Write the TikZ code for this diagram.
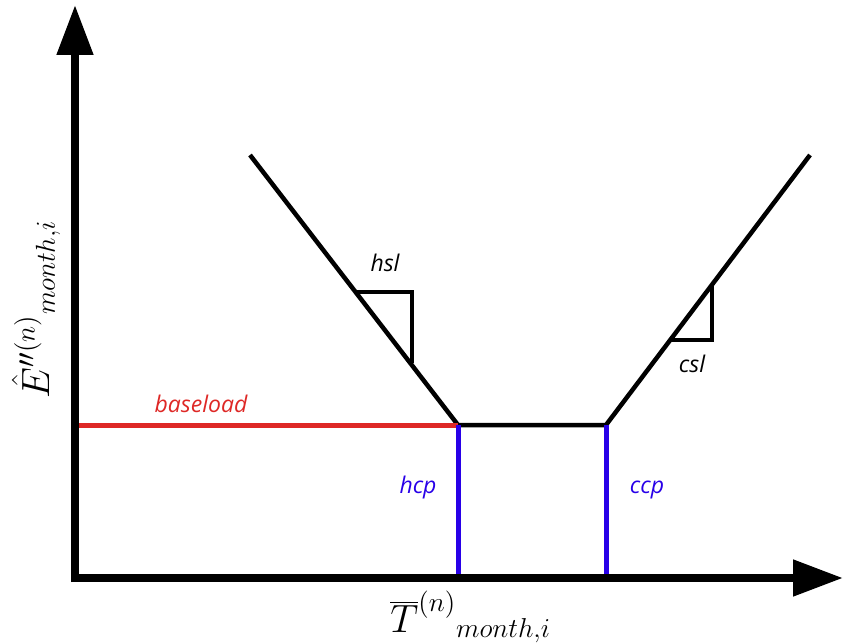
\documentclass[tikz,border=0pt]{standalone}
\usepackage{fontspec}
\setmainfont{Open Sans}
\usepackage{tikz}
\usetikzlibrary{arrows.meta}
\definecolor{loadred}{RGB}{222,40,38}
\definecolor{ptblue}{RGB}{40,0,232}
\tikzset{
  axis/.style={line width=8pt, -{Triangle[length=50pt, width=35pt]}},
  curve/.style={line width=4.5pt, line join=miter},
  slope/.style={line width=4pt, line join=miter},
  part/.style={line width=5pt},
  tag/.style={font=\fontsize{23}{27}\selectfont\itshape, inner sep=0pt, anchor=base},
  mlab/.style={font=\fontsize{20}{24}\selectfont, scale=1.9, inner sep=0pt, anchor=base west}
}

\begin{document}
\begin{tikzpicture}[x=1pt, y=-1pt]
\useasboundingbox (0,0) rectangle (843,644);
\coordinate (o) at (75,578);
\coordinate (htop) at (250,155); \coordinate (hcp) at (458,425);
\coordinate (ccp) at (606,425); \coordinate (ctop) at (810,155);
\coordinate (hbot) at (458,578); \coordinate (cbot) at (606,578);
\coordinate (base0) at (75,425);
% response curve
\draw[curve] (htop) -- (hcp) -- (ccp) -- (ctop);
\draw[slope] (356.6,292) -- (412,292) -- (412,363.3);
\draw[slope] (669.5,340) -- (712,340) -- (712,284.1);
\draw[part, loadred] (base0) -- (hcp);
\draw[part, ptblue] (hcp) -- (hbot);
\draw[part, ptblue] (ccp) -- (cbot);
% axes
\draw[axis] (75,582) -- (75,5);
\draw[axis] (71,578) -- (843,578);
\node[tag] (hsl) at (385,272) {hsl};
\node[tag] (csl) at (692,372) {csl};
\node[tag, loadred] (baseload) at (201,412) {baseload};
\node[tag, ptblue] (hcplab) at (418,493) {hcp};
\node[tag, ptblue] (ccplab) at (647,493) {ccp};
\node[mlab] (tlab) at (390,632) {$\overline{T}^{(n)}{}_{month,i}$};
\node[mlab, rotate=90] (elab) at (49,399) {$\hat{E}''^{(n)}{}_{month,i}$};
\end{tikzpicture}
\end{document}
